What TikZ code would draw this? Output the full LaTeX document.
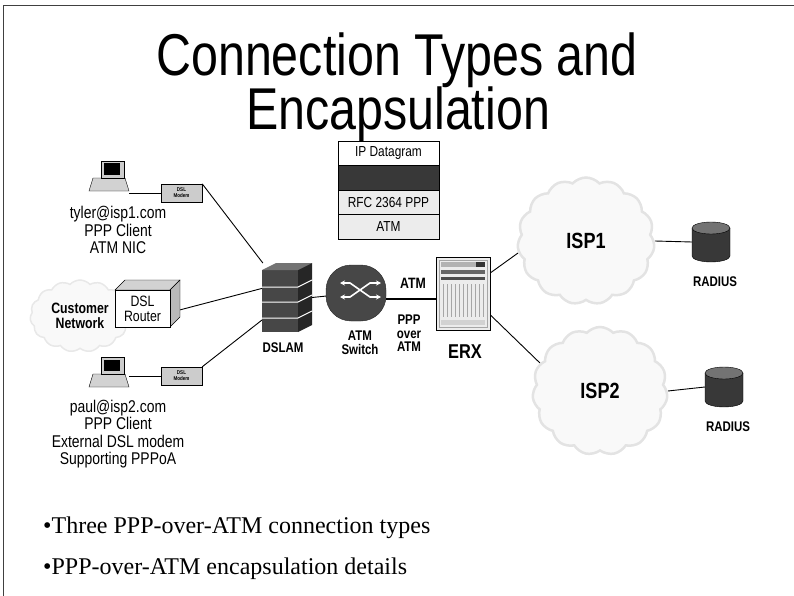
\documentclass[tikz,border=0pt]{standalone}
\usepackage{fontspec}
\setmainfont{Liberation Serif}
\setsansfont{Liberation Sans}[FakeStretch=0.82]
\usetikzlibrary{shapes.symbols,arrows.meta,backgrounds,positioning}

\tikzset{
  dev/.style={inner sep=0pt, outer sep=0pt},
  lbl/.style={font=\sffamily\fontsize{17}{17.5}\selectfont, align=center, inner sep=0pt},
  tag/.style={font=\sffamily\bfseries\fontsize{14}{14.5}\selectfont, align=center, inner sep=0pt},
  link/.style={line width=.9pt},
  cloudy/.style={cloud, cloud puffs=15, cloud puff arc=95, cloud ignores aspect, fill=gray!5, draw=gray!22, line width=2.5pt, inner sep=0pt},
  modem/.style={draw, fill=gray!40, minimum width=41pt, minimum height=18pt, inner sep=0pt, font=\sffamily\bfseries\fontsize{5.5}{6}\selectfont, align=center},
  layer/.style={draw, minimum width=101pt, minimum height=24.5pt, inner sep=0pt, outer sep=0pt, font=\sffamily\fontsize{14.5}{15}\selectfont},
}

\begin{document}
\begin{tikzpicture}[x=1pt,y=-1pt]
\useasboundingbox (0,0) rectangle (794,596);
\draw[black!75,line width=1pt] (3,596) -- (3,6) -- (794,6);

\node[font=\sffamily\fontsize{59}{59}\selectfont, anchor=base] (title1) at (397,76) {Connection Types and};
\node[font=\sffamily\fontsize{59}{59}\selectfont, anchor=base] (title2) at (398,130) {Encapsulation};

% protocol stack
\node[layer] (ipdg) at (388.5,153.25) {IP Datagram};
\node[layer, fill=black!78, below=0pt of ipdg] (hdr) {};
\node[layer, fill=gray!15, below=0pt of hdr] (rfc) {RFC 2364 PPP};
\node[layer, fill=gray!15, below=0pt of rfc] (atm) {ATM};

% clients
\foreach \n/\y in {pc1/161,pc2/357} {
  \draw[fill=gray!35] (93,\y+17) -- (125,\y+17) -- (129,\y+30) -- (89,\y+30) -- cycle;
  \draw[fill=gray!40] (101,\y) rectangle (124,\y+17);
  \fill[black] (104,\y+2.5) rectangle (120,\y+14);
  \node[dev, minimum width=40pt, minimum height=30pt] (\n) at (109,\y+15) {};
}
\node[modem] (modem1) at (181.5,193) {DSL\\Modem};
\node[modem] (modem2) at (181.5,376) {DSL\\Modem};
\node[lbl] (user1) at (118,230) {tyler@isp1.com\\PPP Client\\ATM NIC};
\node[lbl] (user2) at (118,434) {paul@isp2.com\\PPP Client\\External DSL modem\\Supporting PPPoA};

\node[cloudy, line width=1.5pt, draw=gray!18, minimum width=100pt, minimum height=72pt, font=\sffamily\bfseries\fontsize{15}{15.5}\selectfont, align=center] (cust) at (80,316) {Customer\\Network};
\draw[fill=gray!35] (115,290) -- (125,280) -- (180,280) -- (170,290) -- cycle;
\draw[fill=gray!55] (170,290) -- (180,280) -- (180,317) -- (170,327) -- cycle;
\node[draw, fill=white, minimum width=55pt, minimum height=37pt, inner sep=0pt, outer sep=0pt, font=\sffamily\fontsize{15}{15}\selectfont, align=center] (router) at (142.5,308.5) {DSL\\Router};

% dslam
\fill[black!72] (262,270) rectangle (298,332);
\fill[black!55] (262,270) -- (276,263) -- (312,263) -- (298,270) -- cycle;
\fill[black!85] (298,270) -- (312,263) -- (312,325) -- (298,332) -- cycle;
\foreach \y in {287,302,318} \draw[white,line width=1pt] (262,\y) -- (298,\y) -- (312,\y-7);
\node[dev, minimum width=50pt, minimum height=69pt] (dslam) at (287,297.5) {};
\node[tag] (dslamlbl) at (283,348) {DSLAM};

% atm switch
\node[rectangle, rounded corners=25pt, fill=black!72, draw=black!85, minimum width=60pt, minimum height=56pt, inner sep=0pt] (sw) at (356,293) {};
\begin{scope}[shift={(sw.center)}, white, line width=1.6pt]
\draw[{Stealth[length=5pt,width=5pt]}-{Stealth[length=5pt,width=5pt]}] (-16,-10) -- (-6,-10) -- (14,4) -- (25,4);
\draw[{Stealth[length=5pt,width=5pt]}-{Stealth[length=5pt,width=5pt]}] (-16,4) -- (-6,4) -- (14,-10) -- (25,-10);
\end{scope}
\node[tag] (swlbl) at (360,342.5) {ATM\\Switch};
\node[tag, font=\sffamily\bfseries\fontsize{15}{15}\selectfont] (trunklbl) at (413,283) {ATM};
\node[tag, font=\sffamily\bfseries\fontsize{14}{13.5}\selectfont] (encaplbl) at (409,333.5) {PPP\\over\\ATM};

% erx
\fill[gray!15] (436,257) rectangle (490,330);
\draw (436,257) rectangle (490,330);
\draw[gray!70] (439,260) rectangle (487,327);
\fill[gray!60] (441,262) rectangle (485,267);
\fill[black!80] (476,262) rectangle (485,267);
\fill[black!60] (441,270) rectangle (485,274);
\fill[black!70] (441,277) rectangle (485,280);
\foreach \x in {443,447,...,483} \draw[gray!70,line width=.6pt] (\x,284) -- (\x,317);
\fill[gray!35] (441,320) rectangle (485,325);
\node[dev, minimum width=54pt, minimum height=73pt] (erx) at (463,293.5) {};
\node[tag, font=\sffamily\bfseries\fontsize{20}{20}\selectfont] (erxlbl) at (465,352) {ERX};

% isps and radius servers
\node[cloudy, minimum width=137pt, minimum height=127pt, font=\sffamily\bfseries\fontsize{22}{22}\selectfont] (isp1) at (586,241) {ISP1};
\node[cloudy, minimum width=135pt, minimum height=128pt, font=\sffamily\bfseries\fontsize{22}{22}\selectfont] (isp2) at (600,391) {ISP2};
\foreach \n/\x/\y in {rad1/711/242,rad2/724/387} {
  \draw[fill=black!78] (\x-19,\y-14) -- (\x-19,\y+14) arc[start angle=180,end angle=0,x radius=19,y radius=6] -- (\x+19,\y-14);
  \draw[fill=black!55] (\x,\y-14) ellipse[x radius=19,y radius=6];
  \node[dev, minimum width=38pt, minimum height=40pt] (\n) at (\x,\y) {};
}
\node[tag] (rad1lbl) at (715,282) {RADIUS};
\node[tag] (rad2lbl) at (728,427) {RADIUS};

\node[anchor=base west, font=\fontsize{24}{24}\selectfont, inner sep=0pt] (pt1) at (43,533) {•Three PPP-over-ATM connection types};
\node[anchor=base west, font=\fontsize{24}{24}\selectfont, inner sep=0pt] (pt2) at (43,574) {•PPP-over-ATM encapsulation details};

\begin{scope}[on background layer]
\draw[link] (modem1.west) -- (modem1.west -| pc1.east);
\draw[link] (modem2.west) -- (modem2.west -| pc2.east);
\draw[link] (modem1.north east) -- (dslam.125);
\draw[link] ([yshift=-4pt]router.east) -- (dslam.160);
\draw[link] (modem2.north east) -- (dslam.222);
\draw[link] (dslam.east) -- (sw);
\draw[line width=2pt] ([yshift=-6pt]sw.east) -- ([yshift=-6pt]sw.east -| erx.west);
\draw[link] (erx.37) -- (isp1.190);
\draw[link] (erx.-38) -- (isp2.155);
\draw[link] (isp1.east) -- (rad1.west);
\draw[link] (isp2.east) -- (rad2.west);
\end{scope}
\end{tikzpicture}
\end{document}
